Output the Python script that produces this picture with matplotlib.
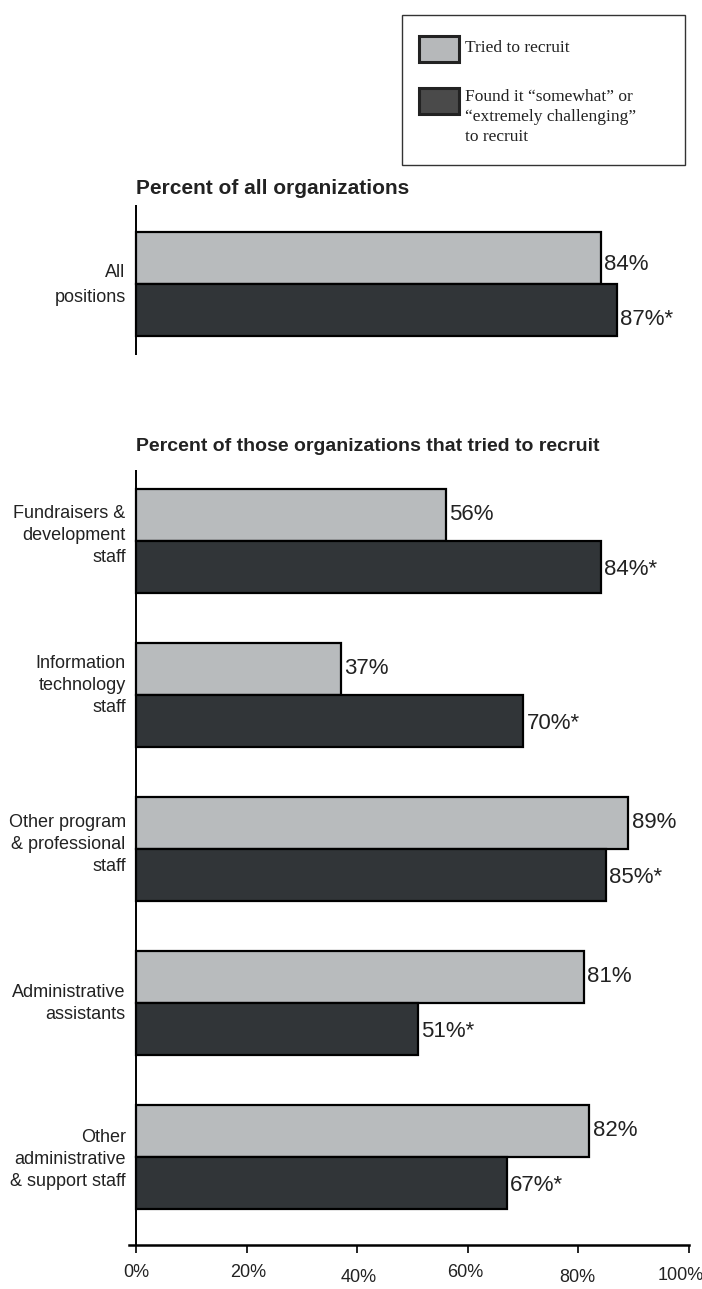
import matplotlib
matplotlib.use("Agg")
import matplotlib.pyplot as plt
from matplotlib.patches import Rectangle
from matplotlib.transforms import ScaledTranslation

# ---- data -------------------------------------------------------------
top_category = ["All\npositions"]
top_tried = [84]
top_challenging = [87]

categories = [
    "Fundraisers &\ndevelopment\nstaff",
    "Information\ntechnology\nstaff",
    "Other program\n& professional\nstaff",
    "Administrative\nassistants",
    "Other\nadministrative\n& support staff",
]
tried = [56, 37, 89, 81, 82]
challenging = [84, 70, 85, 51, 67]

x_ticks = [0, 20, 40, 60, 80, 100]
x_tick_labels = ["0%", "20%", "40%", "60%", "80%", "100%"]

title_top = "Percent of all organizations"
title_bottom = "Percent of those organizations that tried to recruit"
legend_labels = ["Tried to recruit",
                 "Found it \u201csomewhat\u201d or\n\u201cextremely challenging\u201d\nto recruit"]

# ---- style ------------------------------------------------------------
W, H = 702, 1289
LIGHT = "#b8bbbd"
DARK = "#313538"
TEXT = "#222222"
SANS = ["Liberation Sans", "DejaVu Sans"]
SERIF = ["Liberation Serif", "DejaVu Serif"]
UNIT = 154.0          # pixels per category slot
BAR_H = 52.0 / UNIT   # bar thickness in slot units
XMIN = -1.3

fig = plt.figure(figsize=(W / 100, H / 100), dpi=100)


def px_axes(x0, y0, x1, y1):
    return fig.add_axes([x0 / W, 1 - y1 / H, (x1 - x0) / W, (y1 - y0) / H])


def draw_pairs(ax, labels, a_vals, b_vals, centers, span, label_shift,
               spacing, value_shift=0.0):
    vs = value_shift / UNIT
    for lab, a, b, c, sh in zip(labels, a_vals, b_vals, centers, label_shift):
        ax.barh(c - BAR_H / 2, a, height=BAR_H, left=0, color=LIGHT,
                edgecolor="black", linewidth=1.6)
        ax.barh(c + BAR_H / 2, b, height=BAR_H, left=0, color=DARK,
                edgecolor="black", linewidth=1.6)
        ax.text(a + 0.6, c - BAR_H / 2 + vs, f"{a}%", va="center", ha="left",
                fontsize=16, family=SANS, color=TEXT)
        ax.text(b + 0.6, c + BAR_H / 2 + 0.02 + vs, f"{b}%*", va="center",
                ha="left", fontsize=16, family=SANS, color=TEXT)
        ax.text(XMIN - 0.6, c + sh / UNIT, lab, va="center", ha="right",
                fontsize=13, family=SANS, color=TEXT, linespacing=spacing)
    ax.set_xlim(XMIN, 100)
    ax.set_ylim(span, 0)
    ax.axvline(0, color="black", linewidth=1.4)
    for s in ["top", "right", "left", "bottom"]:
        ax.spines[s].set_visible(False)
    ax.set_yticks([])


# top panel
ax_top = px_axes(129, 205, 689, 355)
draw_pairs(ax_top, top_category, top_tried, top_challenging,
           [79 / UNIT], 150 / UNIT, [1], 1.6, value_shift=6)
ax_top.set_xticks([])

# bottom panel
ax_bot = px_axes(129, 470, 689, 1245)
centers = [i + 0.46 for i in range(len(categories))]
draw_pairs(ax_bot, categories, tried, challenging, centers, 775 / UNIT,
           [-5, -9, -4, 1, 3], 1.38)
ax_bot.spines["bottom"].set_visible(True)
ax_bot.spines["bottom"].set_linewidth(1.8)
ax_bot.set_xticks(x_ticks)
ax_bot.set_xticklabels(x_tick_labels, fontsize=13, family=SANS, color=TEXT)
ax_bot.tick_params(axis="x", direction="out", length=6, width=1.2, pad=9)
# small hand-set nudges of the tick labels (points)
nudges = [(0, 1), (1, 1), (1, -2), (-2, 1), (-1, -2), (-6, -1)]
for lbl, (dx, dy) in zip(ax_bot.get_xticklabels(), nudges):
    lbl.set_transform(lbl.get_transform() +
                      ScaledTranslation(dx / 72, dy / 72, fig.dpi_scale_trans))

# panel titles
fig.text(136 / W, 1 - 189 / H, title_top, fontsize=15, fontweight="bold",
         family=SANS, va="center", ha="left", color=TEXT)
fig.text(136 / W, 1 - 447 / H, title_bottom, fontsize=14, fontweight="bold",
         family=SANS, va="center", ha="left", color=TEXT)

# legend box
fig.patches.append(Rectangle((402 / W, 1 - 165 / H), 283 / W, 150 / H,
                             transform=fig.transFigure, facecolor="white",
                             edgecolor="#333333", linewidth=1.0))
swatches = [("#b6b8ba", 36, 62, 49), ("#4a4a4a", 88, 114, 98)]
for (col, y0, y1, ty), lab in zip(swatches, legend_labels):
    fig.patches.append(Rectangle((419 / W, 1 - y1 / H), 40 / W, (y1 - y0) / H,
                                 transform=fig.transFigure, facecolor=col,
                                 edgecolor="#222222", linewidth=2.2))
    fig.text(465 / W, 1 - (ty - 9) / H, lab, fontsize=12.5, family=SERIF,
             va="top", ha="left", color=TEXT, linespacing=1.33)

fig.savefig("out.png", dpi=100)
